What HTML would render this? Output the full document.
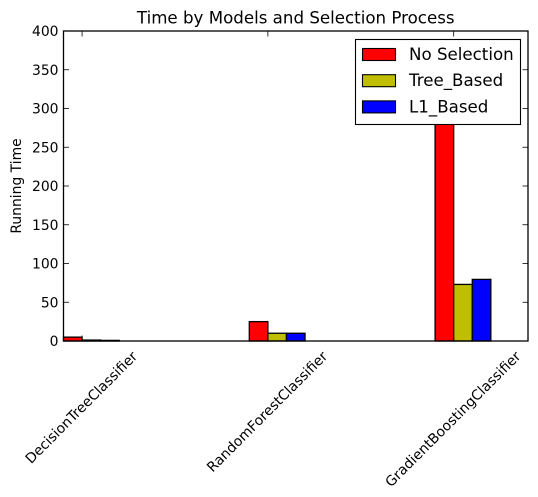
<!DOCTYPE html>
<html>
<head>
<meta charset="utf-8">
<style>
html,body{margin:0;padding:0;background:#fff;width:538px;height:497px;overflow:hidden}
svg{display:block}
text{font-family:"DejaVu Sans","Liberation Sans",sans-serif;fill:#000}
</style>
</head>
<body>
<svg id="chart" width="538" height="497" viewBox="0 0 538 497" xmlns="http://www.w3.org/2000/svg"></svg>
<script>
const categories = ['DecisionTreeClassifier', 'RandomForestClassifier', 'GradientBoostingClassifier'];
const seriesNames = ['No Selection', 'Tree_Based', 'L1_Based'];
const noSelection = [5, 25, 320];
const treeBased = [1.2, 10, 73];
const l1Based = [0.8, 10, 79.5];
const yTickLabels = [0, 50, 100, 150, 200, 250, 300, 350, 400];

const svg = document.getElementById('chart');
const NS = 'http://www.w3.org/2000/svg';
const left = 63.5, right = 528, top_ = 31, bottom = 341;
const xMin = -0.1, xMax = 2.4, yMin = 0, yMax = 400, barW = 0.1;
const colors = ['#ff0000', '#bfbf00', '#0000ff'];
const seriesValues = [noSelection, treeBased, l1Based];
const seriesKeys = ['no-selection', 'tree-based', 'l1-based'];

function xScale(v) { return left + (v - xMin) / (xMax - xMin) * (right - left); }
function yScale(v) { return bottom - (v - yMin) / (yMax - yMin) * (bottom - top_); }
function make(tag, attrs, parent) {
  const el = document.createElementNS(NS, tag);
  for (const k in attrs) el.setAttribute(k, attrs[k]);
  (parent || svg).appendChild(el);
  return el;
}

// bars
seriesValues.forEach(function (vals, s) {
  vals.forEach(function (v, i) {
    const x0 = xScale(i + (s - 1) * barW);
    const x1 = xScale(i + s * barW);
    const y0 = yScale(v);
    const bar = make('rect', {x: x0, y: y0, width: x1 - x0, height: bottom - y0, fill: colors[s], stroke: '#000', 'stroke-width': 1.3});
    
    
  });
});

// y ticks
yTickLabels.forEach(function (t) {
  const y = yScale(t);
  const a = make('line', {x1: left, x2: left + 5.5, y1: y, y2: y, stroke: '#000', 'stroke-width': 0.8});
  
  
  const b = make('line', {x1: right, x2: right - 5.5, y1: y, y2: y, stroke: '#000', 'stroke-width': 0.8});
  
  
  const lab = make('text', {x: left - 5, y: y + 5, 'text-anchor': 'end', 'font-size': 13.9});
  lab.textContent = t;
  
  
});

// x ticks and labels
categories.forEach(function (c, i) {
  const x = xScale(i);
  const a = make('line', {x1: x, x2: x, y1: bottom, y2: bottom - 5.5, stroke: '#000', 'stroke-width': 0.8});
  
  
  const b = make('line', {x1: x, x2: x, y1: top_, y2: top_ + 5.5, stroke: '#000', 'stroke-width': 0.8});
  
  
  const lab = make('text', {'text-anchor': 'middle', 'font-size': 13.9, dy: '0.36em'});
  lab.textContent = c;
  
  
  const L = lab.getComputedTextLength();
  const half = (L + 16) * Math.SQRT1_2 / 2;
  lab.setAttribute('transform', 'translate(' + (x - 1) + ',' + (348 + half) + ') rotate(-45)');
});

// axes frame
const frame = make('rect', {x: left, y: top_, width: right - left, height: bottom - top_, fill: 'none', stroke: '#000', 'stroke-width': 1.3});



// title
const title = make('text', {x: (left + right) / 2, y: 23.5, 'text-anchor': 'middle', 'font-size': 16.67});
title.textContent = 'Time by Models and Selection Process';



// y axis title
const yTitle = make('text', {transform: 'translate(21,186) rotate(-90)', 'text-anchor': 'middle', 'font-size': 13.9});
yTitle.textContent = 'Running Time';



// legend
const legend = make('g', {});


const box = make('rect', {x: 355.5, y: 39.5, width: 165, height: 85, fill: '#fff', stroke: '#000', 'stroke-width': 1.1}, legend);


seriesNames.forEach(function (n, s) {
  const y = 48.5 + s * 26.2;
  const sw = make('rect', {x: 362.5, y: y, width: 33, height: 12, fill: colors[s], stroke: '#000', 'stroke-width': 1.1}, legend);
  
  
  const t = make('text', {x: 409, y: y + 11.5, 'font-size': 16.67}, legend);
  t.textContent = n;
  
  
});
</script>
</body>
</html>
